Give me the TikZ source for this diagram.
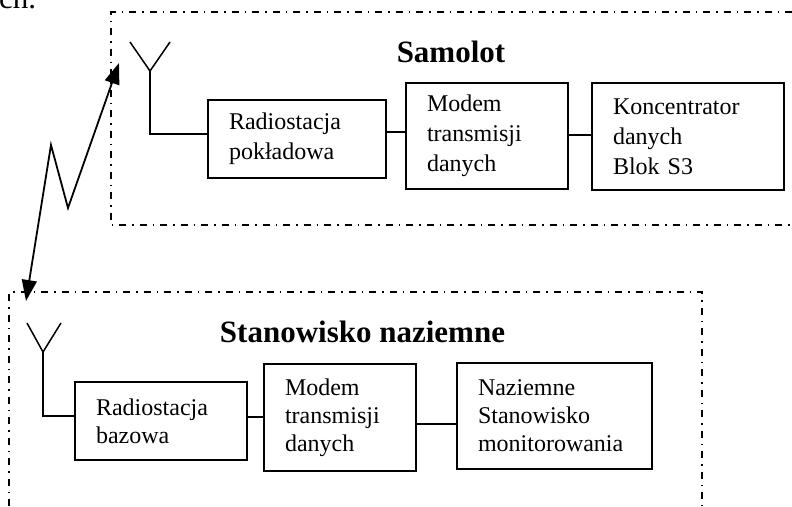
\documentclass[tikz,border=0pt]{standalone}
\usepackage{fontspec}
\setmainfont{Liberation Serif}
\usetikzlibrary{arrows.meta}
\begin{document}
\begin{tikzpicture}[x=1pt,y=-1pt,
  blk/.style={draw,line width=1.8pt,align=left,inner xsep=21pt,inner ysep=0pt,
     font=\fontsize{24}{28}\selectfont},
  blkt/.style={blk,font=\fontsize{24}{30}\selectfont},
  conn/.style={line width=1.5pt},
  frame/.style={line width=2pt,dash pattern=on 7pt off 6pt on 1.5pt off 6pt},
  ttl/.style={font=\fontsize{31}{36}\selectfont\bfseries},
  radio/.style={line width=1.8pt,{Triangle[length=21pt,width=15pt]}-{Triangle[length=21pt,width=15pt]}}]
\useasboundingbox (0,0) rectangle (792,506);
\begin{scope}
\clip (0,0) rectangle (792,506);
\node[anchor=base west,inner sep=0pt,font=\fontsize{31}{36}\selectfont] (frag) at (-1,9) {ch.};
\end{scope}
% frames
\draw[frame] (792,12) -- (111,12) -- (111,225) -- (792,225);
\draw[frame] (9,506) -- (9,292) -- (702,292) -- (702,506);
% titles
\node[ttl] (t1) at (451,52) {Samolot};
\node[ttl] (t2) at (362.5,332) {Stanowisko naziemne};
% upper blocks
\node[blkt,text width=136pt,minimum height=78pt] (R1) at (297,139) {Radiostacja\\pokładowa};
\node[blkt,text width=120pt,minimum height=106pt] (M1) at (487,136) {Modem\\transmisji\\danych};
\node[blkt,text width=150pt,minimum height=107pt] (K1) at (688,136.5) {Koncentrator\\danych\\Blok S3};
% lower blocks
\node[blk,text width=130pt,minimum height=78pt] (R2) at (161,421) {Radiostacja\\bazowa};
\node[blk,text width=110pt,minimum height=107pt] (M2) at (340,417.5) {Modem\\transmisji\\danych};
\node[blk,text width=153pt,minimum height=106pt] (N2) at (554.5,416) {Naziemne\\Stanowisko\\monitorowania};
% connectors
\draw[conn] (R1.east |- 0,132) -- (M1.west |- 0,132);
\draw[conn] (M1.east |- 0,135) -- (K1.west |- 0,135);
\draw[conn] (R2.east |- 0,417) -- (M2.west |- 0,417);
\draw[conn] (M2.east |- 0,424) -- (N2.west |- 0,424);
% antennas
\coordinate (a1) at (150,71);
\coordinate (a2) at (43,352);
\draw[conn] (130,42) -- (a1) -- (170,42);
\draw[conn] (a1) -- (150,134) -- (R1.west |- 0,134);
\draw[conn] (27,323) -- (a2) -- (61,323);
\draw[conn] (a2) -- (43,416) -- (R2.west |- 0,416);
% radio link
\coordinate (up) at (119,63);
\coordinate (dn) at (26,301);
\draw[radio] (up) -- (68,208) -- (51,145) -- (dn);
\end{tikzpicture}
\end{document}
